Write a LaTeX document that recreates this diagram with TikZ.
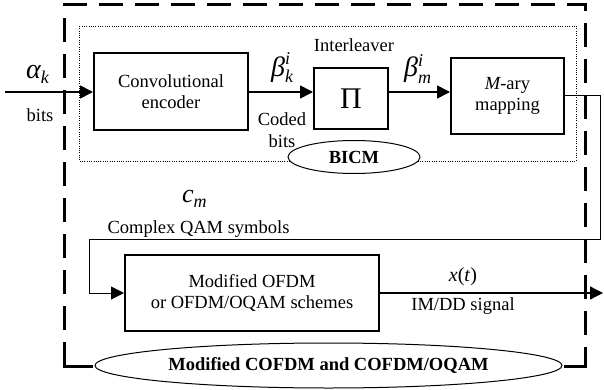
\documentclass[tikz,border=0pt]{standalone}
\usepackage{fontspec}
\setmainfont{Liberation Serif}
\usetikzlibrary{arrows.meta,shapes.geometric}
\newcommand{\fsz}[1]{\fontsize{#1}{#1}\selectfont}
\begin{document}
\begin{tikzpicture}[x=1pt,y=-1pt,
  font=\fontsize{18.5}{21.5}\selectfont,
  blk/.style={draw, line width=2pt, inner sep=0pt, align=center},
  conn/.style={line width=1.6pt},
  thinconn/.style={line width=1pt},
  midconn/.style={line width=1.3pt},
  tipa/.style={-{Triangle[length=13pt,width=13pt]}},
  frame/.style={line width=3pt, dash pattern=on 24pt off 12pt},
  dotbox/.style={line width=0.8pt, dash pattern=on 1pt off 1.3pt},
  oval/.style={ellipse, draw, line width=1pt, fill=white, inner sep=0pt},
  lbl/.style={inner sep=0pt, align=center}]
\useasboundingbox (0,0) rectangle (604,390);

% outer dashed frame
\draw[frame] (64,366) -- (64,5) -- (585,5) -- (585,366);
\draw[line width=3pt] (93,366) -- (62.5,366);
\draw[line width=3pt] (564,366) -- (586.5,366);

% dotted BICM box
\draw[dotbox] (79,26) rectangle (576,161);

% blocks
\node[blk, minimum width=154pt, minimum height=77pt] (conv) at (171,91.5) {Convolutional\\encoder};
\node[blk, minimum width=74pt, minimum height=61pt] (pi) at (351,98.5) {\fsz{30}Π};
\node[blk, minimum width=113pt, minimum height=76pt] (mary) at (507.5,96) {{\itshape M}-ary\\mapping};
\node[blk, minimum width=254pt, minimum height=76pt] (box2) at (252,293) {Modified OFDM\\or OFDM/OQAM schemes};

% ovals
\node[oval, minimum width=132pt, minimum height=33pt] (bicm) at (354,157) {\bfseries BICM};
\node[oval, minimum width=467pt, minimum height=45pt] (cofdm) at (328.5,365.5) {\bfseries Modified COFDM and COFDM/OQAM};

% coordinates
\coordinate (in) at (5,92);
\coordinate (r1) at (600,96);
\coordinate (l1) at (89,239);
\coordinate (out) at (603,293);

% connectors
\draw[conn,tipa] (in) -- (in -| conv.west);
\draw[conn,tipa] (conv.east |- in) -- (in -| pi.west);
\draw[conn,tipa] (pi.east |- in) -- (in -| mary.west);
\draw[thinconn] (mary.east) -- (r1) |- (l1);
\draw[thinconn,tipa] (l1) |- (box2.west);
\draw[midconn,tipa] (box2.east |- out) -- (out);

% labels
\node[lbl, anchor=base west] (alpha) at (26,79) {\itshape\fsz{28}α\fsz{18}\raisebox{-5pt}{k}};
\node[lbl] (bits) at (40,115) {bits};
\node[lbl, anchor=base west] (betak) at (271,77) {\itshape\fsz{28}β\fsz{18}\makebox[0pt][l]{\raisebox{12pt}{i}}\raisebox{-6pt}{k}};
\node[lbl] (coded) at (282,130) {Coded\\bits};
\node[lbl] (inter) at (354,45) {Interleaver};
\node[lbl, anchor=base west] (betam) at (404,77) {\itshape\fsz{28}β\fsz{18}\makebox[0pt][l]{\raisebox{10pt}{i}}\raisebox{-7pt}{m}};
\node[lbl, anchor=base west] (cm) at (182,202) {\itshape\fsz{26}c\fsz{18}\raisebox{-5pt}{m}};
\node[lbl] (qam) at (198.5,229) {Complex QAM symbols};
\node[lbl] (xt) at (463,277) {\fsz{20}{\itshape x}(\textit{t})};
\node[lbl] (imdd) at (463,306) {IM/DD signal};
\end{tikzpicture}
\end{document}
